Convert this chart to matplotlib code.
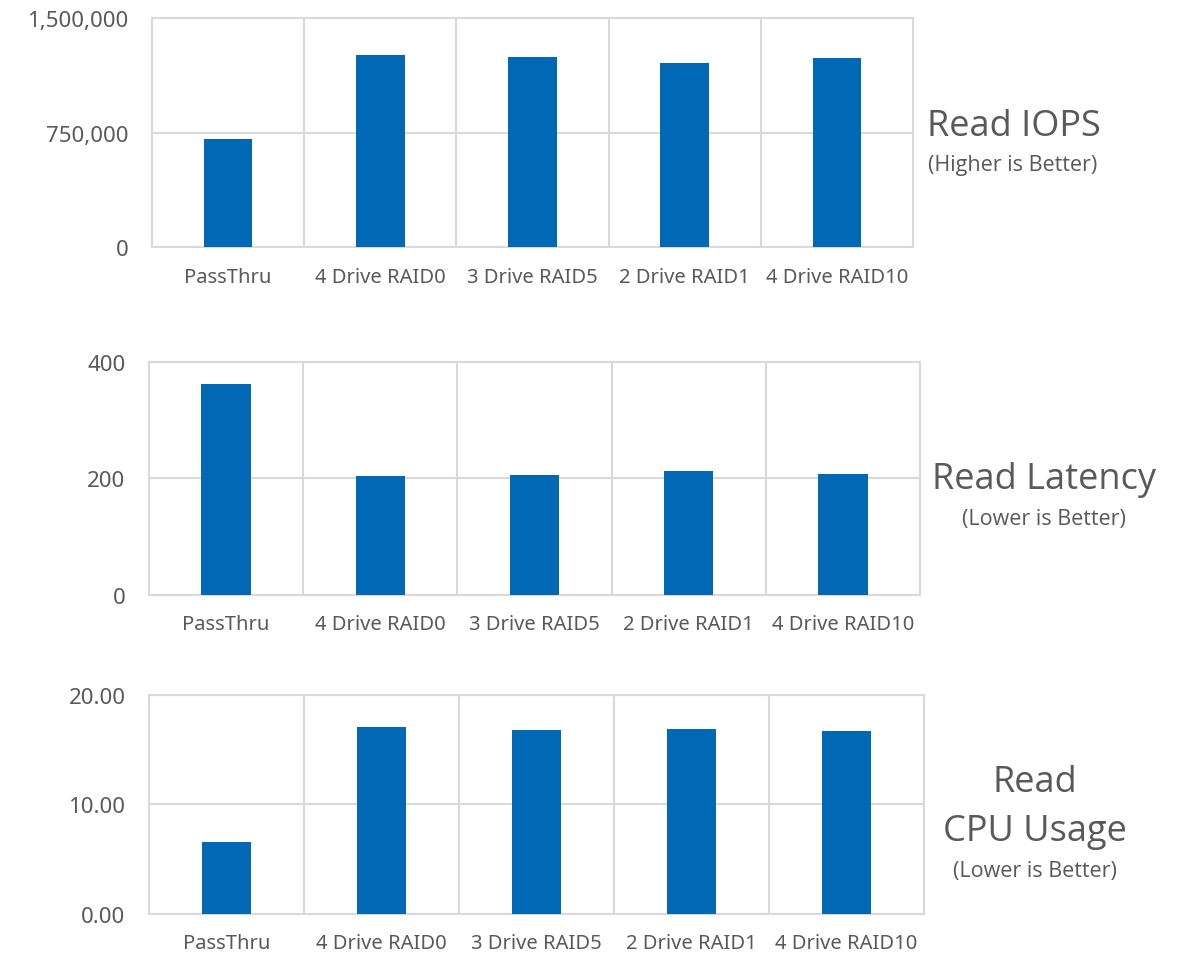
import numpy as np
import matplotlib.pyplot as plt
from matplotlib.ticker import FuncFormatter

configs = ["PassThru", "4 Drive RAID0", "3 Drive RAID5", "2 Drive RAID1", "4 Drive RAID10"]
read_iops = [707000, 1256000, 1243000, 1206000, 1235000]
read_latency = [362, 204, 205.5, 212, 207]
read_cpu = [6.58, 17.05, 16.78, 16.89, 16.68]

BLUE = "#0068B5"
GRID = "#d9d9d9"
TXT = "#595959"

plt.rcParams['font.family'] = ['Noto Sans', 'DejaVu Sans']

fig = plt.figure(figsize=(11.81, 9.54), dpi=100)


def bar_panel(rect, values, ymax, yticks, fmt):
    ax = fig.add_axes(rect)
    x = np.arange(len(configs))
    ax.bar(x, values, width=0.32, color=BLUE, zorder=3)
    ax.set_xlim(-0.5, len(configs) - 0.5)
    ax.set_ylim(0, ymax)
    ax.set_yticks(yticks)
    ax.yaxis.set_major_formatter(FuncFormatter(fmt))
    ax.set_xticks(x)
    ax.set_xticklabels(configs)
    # category boundaries as vertical gridlines
    for b in np.arange(0.5, len(configs) - 0.5, 1):
        ax.axvline(b, color=GRID, lw=1.5, zorder=1)
    ax.grid(axis='y', color=GRID, lw=1.5, zorder=1)
    for s in ax.spines.values():
        s.set_color(GRID)
        s.set_linewidth(1.5)
    ax.tick_params(axis='both', length=0, colors=TXT)
    ax.tick_params(axis='y', labelsize=16, pad=17)
    ax.tick_params(axis='x', labelsize=14.5, pad=14)
    return ax


bar_panel([0.1287, 0.7397, 0.6444, 0.2407], read_iops, 1500000,
          [0, 750000, 1500000], lambda v, p: f"{v:,.0f}")
bar_panel([0.1262, 0.3756, 0.6528, 0.2442], read_latency, 400,
          [0, 200, 400], lambda v, p: f"{v:.0f}")
bar_panel([0.1262, 0.0409, 0.6562, 0.2296], read_cpu, 20,
          [0, 10, 20], lambda v, p: f"{v:.2f}")

# panel captions on the right
def caption(x, y, s, size):
    fig.text(x / 1181, 1 - y / 954, s, ha='center', va='center',
             fontsize=size, color=TXT, family=['Open Sans', 'DejaVu Sans'])

caption(1014, 127, "Read IOPS", 26)
caption(1013, 165, "(Higher is Better)", 15.5)
caption(1044, 480, "Read Latency", 26)
caption(1044, 519, "(Lower is Better)", 15.5)
caption(1035, 783, "Read", 26)
caption(1035, 832, "CPU Usage", 26)
caption(1035, 872, "(Lower is Better)", 15.5)

fig.savefig("out.png", dpi=100, facecolor="white")
